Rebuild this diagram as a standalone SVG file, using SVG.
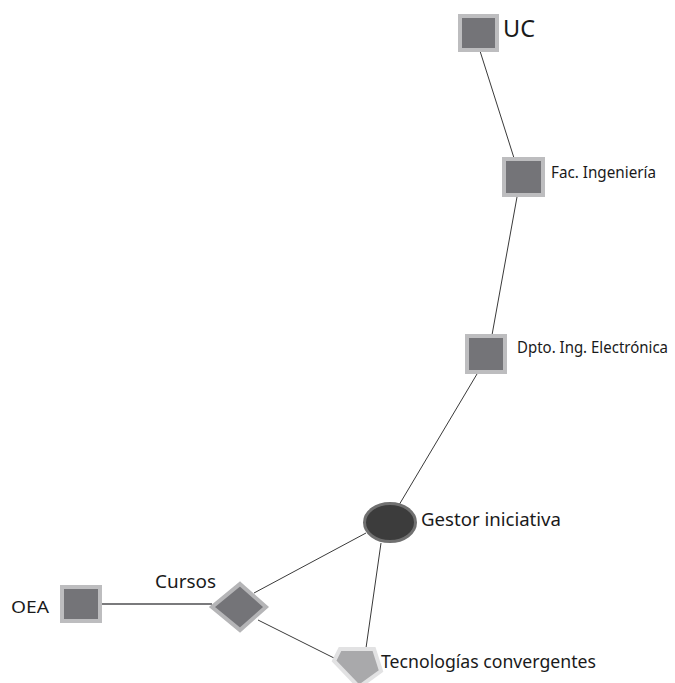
<svg xmlns="http://www.w3.org/2000/svg" width="675" height="683" viewBox="0 0 675 683">
<style>
.edge{stroke:#3a3a3a;stroke-width:1;fill:none}
.edge2{stroke:#7a7a7c;stroke-width:2;fill:none}
.sq{fill:#747478;stroke:#bdbdbf;stroke-width:4}
.lbl{font-family:"Noto Sans","Open Sans",sans-serif;fill:#1a1a1a}
</style>
<rect width="675" height="683" fill="#ffffff"/>
<g id="connectors">
<line class="edge" x1="480" y1="51" x2="514" y2="158"/>
<line class="edge" x1="517" y1="197" x2="492" y2="335"/>
<line class="edge" x1="477" y1="374" x2="399" y2="505"/>
<line class="edge" x1="366" y1="533" x2="254" y2="593"/>
<line class="edge" x1="381" y1="543" x2="366" y2="648"/>
<line class="edge" x1="258" y1="620" x2="334" y2="658"/>
<line class="edge2" x1="101" y1="604" x2="212" y2="604"/>
</g>
<g id="node-uc">
<rect class="sq" x="460" y="16" width="37" height="34"/>
<text class="lbl" x="503" y="37" font-size="24" textLength="32" lengthAdjust="spacingAndGlyphs">UC</text>
</g>
<g id="node-fac">
<rect class="sq" x="504" y="159" width="39" height="36"/>
<text class="lbl" transform="translate(551,178) scale(1,1.2)" x="0" y="0" font-size="14" textLength="105" lengthAdjust="spacingAndGlyphs">Fac. Ingeniería</text>
</g>
<g id="node-dpto">
<rect class="sq" x="467" y="336" width="38" height="36"/>
<text class="lbl" transform="translate(517,353) scale(1,1.2)" x="0" y="0" font-size="14" textLength="151" lengthAdjust="spacingAndGlyphs">Dpto. Ing. Electrónica</text>
</g>
<g id="node-gestor">
<ellipse cx="390" cy="522.5" rx="25.5" ry="19" fill="#3c3c3c" stroke="#707070" stroke-width="3"/>
<text class="lbl" x="421" y="526" font-size="18" textLength="140" lengthAdjust="spacingAndGlyphs">Gestor iniciativa</text>
</g>
<g id="node-oea">
<rect class="sq" x="62" y="587" width="38" height="34"/>
<text class="lbl" x="11" y="613" font-size="17" textLength="38" lengthAdjust="spacingAndGlyphs">OEA</text>
</g>
<g id="node-cursos">
<polygon points="240,584 266,607 240,630 212,607" fill="#747478" stroke="#b5b5b7" stroke-width="4"/>
<text class="lbl" x="155" y="588" font-size="18" textLength="61" lengthAdjust="spacingAndGlyphs">Cursos</text>
</g>
<g id="node-tec">
<polygon points="340,649 374,649 381,671 359,687 334,661" fill="#a9a9ab" stroke="#e2e2e3" stroke-width="4"/>
<text class="lbl" x="381" y="668" font-size="18" textLength="215" lengthAdjust="spacingAndGlyphs">Tecnologías convergentes</text>
</g>
</svg>
